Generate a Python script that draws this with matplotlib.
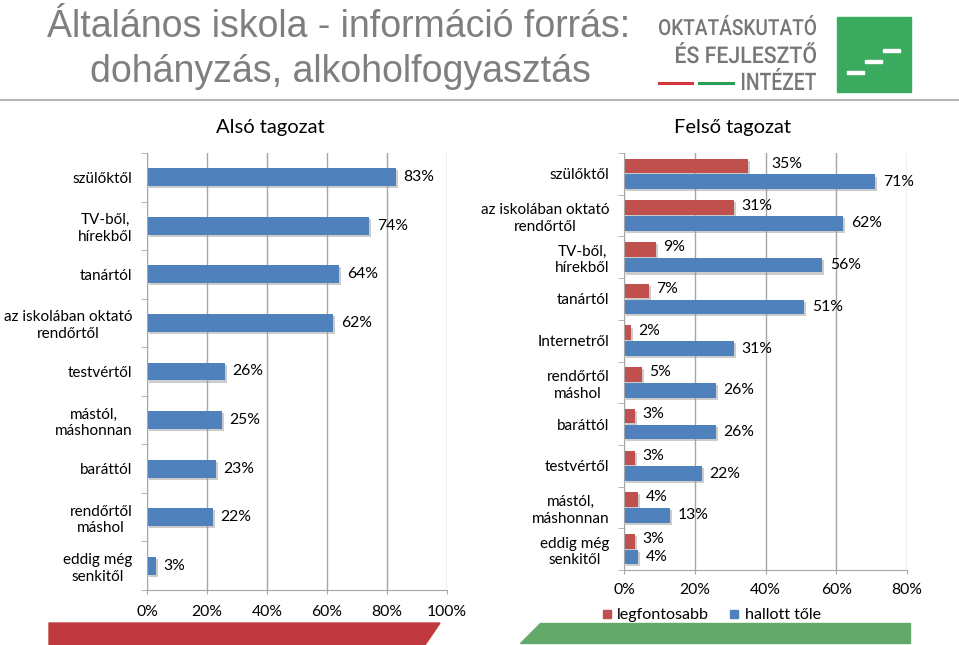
import matplotlib
matplotlib.use("Agg")
import matplotlib.pyplot as plt
from matplotlib import patheffects as pe
from matplotlib.lines import Line2D
from matplotlib.patches import Polygon, Rectangle, PathPatch
from matplotlib.textpath import TextPath
from matplotlib.font_manager import FontProperties
from matplotlib.transforms import Affine2D

plt.rcParams['font.family'] = ['Lato', 'DejaVu Sans']

# ---- adatok ----
also_kat = ["szülőktől", "TV-ből,\nhírekből", "tanártól", "az iskolában oktató\nrendőrtől",
            "testvértől", "mástól,\nmáshonnan", "baráttól", "rendőrtől\nmáshol",
            "eddig még\nsenkitől"]
also_ert = [83, 74, 64, 62, 26, 25, 23, 22, 3]

felso_kat = ["szülőktől", "az iskolában oktató\nrendőrtől", "TV-ből,\nhírekből", "tanártól",
             "Internetről", "rendőrtől\nmáshol", "baráttól", "testvértől",
             "mástól,\nmáshonnan", "eddig még\nsenkitől"]
felso_legfontosabb = [35, 31, 9, 7, 2, 5, 3, 3, 4, 3]
felso_hallott = [71, 62, 56, 51, 31, 26, 26, 22, 13, 4]

also_ticks = [0, 20, 40, 60, 80, 100]
felso_ticks = [0, 20, 40, 60, 80]

KEK = '#4F81BD'
PIROS = '#C0504D'
SZURKE = '#A6A6A6'
W, H = 959, 645


def px(x, y):
    return (x / W, 1 - y / H)


fig = plt.figure(figsize=(W / 100, H / 100), dpi=100)

arnyek = [pe.SimplePatchShadow(offset=(1.5, -1.5), shadow_rgbFace='#9a9a9a', alpha=0.5), pe.Normal()]


def tengely_stilus(ax, n, kat, ticks, xmax, pad_x):
    ax.set_xlim(0, xmax)
    ax.set_ylim(n - 0.5, -0.5)
    ax.set_yticks(range(n))
    ax.set_yticklabels(kat, fontsize=11.0, linespacing=1.25)
    for t in ax.get_yticklabels():
        t.set_multialignment('center')
    ax.set_yticks([i - 0.5 for i in range(n + 1)], minor=True)
    ax.tick_params(axis='y', which='major', length=0, pad=10.5)
    ax.tick_params(axis='y', which='minor', length=4, color=SZURKE, direction='out')
    ax.set_xticks(ticks)
    ax.set_xticklabels([f"{t}%" for t in ticks], fontsize=11.3)
    ax.tick_params(axis='x', length=3, color=SZURKE, pad=pad_x)
    ax.grid(axis='x', color=SZURKE, linewidth=1)
    ax.set_axisbelow(True)
    for s in ['top', 'right']:
        ax.spines[s].set_visible(False)
    for s in ['left', 'bottom']:
        ax.spines[s].set_color(SZURKE)


# -------------------- Alsó tagozat --------------------
ax1 = fig.add_axes([147 / W, 55 / H, 300 / W, 437 / H])
y1 = list(range(len(also_kat)))
b1 = ax1.barh(y1, also_ert, height=0.37, color=KEK)
for r in b1:
    r.set_path_effects(arnyek)
for y, v in zip(y1, also_ert):
    ax1.annotate(f"{v}%", (v, y), xytext=(5.5, 0), textcoords='offset points',
                 va='center', fontsize=11.3)
tengely_stilus(ax1, len(also_kat), also_kat, also_ticks, 100, 8)

# -------------------- Felső tagozat --------------------
ax2 = fig.add_axes([624 / W, 75 / H, 283 / W, 417 / H])
y2 = list(range(len(felso_kat)))
b_r = ax2.barh([y - 0.19 for y in y2], felso_legfontosabb, height=0.35, color=PIROS)
b_b = ax2.barh([y + 0.19 for y in y2], felso_hallott, height=0.35, color=KEK)
for r in list(b_r) + list(b_b):
    r.set_path_effects(arnyek)
for i, (y, v) in enumerate(zip(y2, felso_legfontosabb)):
    dx = 17 if i == 0 else 5.5   # az első címke Excelben arrébb tolva
    ax2.annotate(f"{v}%", (v, y - 0.24), xytext=(dx, 0), textcoords='offset points',
                 va='center', fontsize=11.3)
for y, v in zip(y2, felso_hallott):
    ax2.annotate(f"{v}%", (v, y + 0.19), xytext=(5.5, 0), textcoords='offset points',
                 va='center', fontsize=11.3)
tengely_stilus(ax2, len(felso_kat), felso_kat, felso_ticks, 80, 6.5)

handles = [Line2D([], [], marker='s', linestyle='none', color=PIROS, markersize=6),
           Line2D([], [], marker='s', linestyle='none', color=KEK, markersize=6)]
fig.legend(handles, ["legfontosabb", "hallott tőle"], ncol=2, frameon=False,
           loc='center', bbox_to_anchor=px(711, 615), fontsize=11.6,
           handlelength=0.7, handletextpad=0.3, columnspacing=1.2)

# -------------------- feliratok --------------------
fig.text(*px(270, 128), "Alsó tagozat", ha='center', va='center', fontsize=14.5)
fig.text(*px(733, 128), "Felső tagozat", ha='center', va='center', fontsize=14.5)

cim_font = ['Liberation Sans', 'DejaVu Sans']
fig.text(*px(339, 37), "Általános iskola - információ forrás:", ha='center', va='baseline',
         fontsize=27, color='#7F7F7F', family=cim_font)
fig.text(*px(340, 82), "dohányzás, alkoholfogyasztás", ha='center', va='baseline',
         fontsize=27, color='#7F7F7F', family=cim_font)

fig.add_artist(Line2D([0, 1], [1 - 100 / H] * 2, color='#B5B5B5', linewidth=1.5,
                      transform=fig.transFigure))

# logó szöveg, dobozba nyújtva
logo_prop = FontProperties(family=['Roboto', 'DejaVu Sans'], weight='medium')


def logo_szoveg(s, x0, x1, ytop, ybase):
    tp = TextPath((0, 0), s, size=1, prop=logo_prop)
    bb = tp.get_extents()
    tr = (Affine2D().translate(-bb.x0, 0)
          .scale((x1 - x0) / bb.width, (ybase - ytop) / bb.y1)
          .translate(x0, H - ybase).scale(1 / W, 1 / H) + fig.transFigure)
    fig.add_artist(PathPatch(tp, transform=tr, color='#76777A', lw=0))


logo_szoveg("OKTATÁSKUTATÓ", 659, 816, 15, 35)
logo_szoveg("ÉS FEJLESZTŐ", 676, 816, 42, 63)
logo_szoveg("INTÉZET", 742, 816, 68, 90)
fig.add_artist(Line2D([px(659, 0)[0], px(692, 0)[0]], [px(0, 83)[1]] * 2, color='#D2363C',
                      linewidth=2.2, transform=fig.transFigure))
fig.add_artist(Line2D([px(699, 0)[0], px(733, 0)[0]], [px(0, 83)[1]] * 2, color='#2E9E57',
                      linewidth=2.2, transform=fig.transFigure))
fig.add_artist(Rectangle(px(837, 92), 74 / W, 75 / H, color='#3AAA5E', transform=fig.transFigure))
for xa, ya in [(847, 74), (865, 63), (883, 52)]:
    fig.add_artist(Rectangle(px(xa, ya), 17 / W, 3.5 / H, color='white', transform=fig.transFigure))

# alsó díszcsíkok
fig.add_artist(Polygon([px(49, 623), px(440, 623), px(425, 645), px(49, 645)],
                       closed=True, color='#C0393F', transform=fig.transFigure))
fig.add_artist(Polygon([px(540, 623), px(910, 623), px(910, 643), px(520, 643)],
                       closed=True, color='#62A96A', transform=fig.transFigure))

fig.savefig("out.png", dpi=100)
